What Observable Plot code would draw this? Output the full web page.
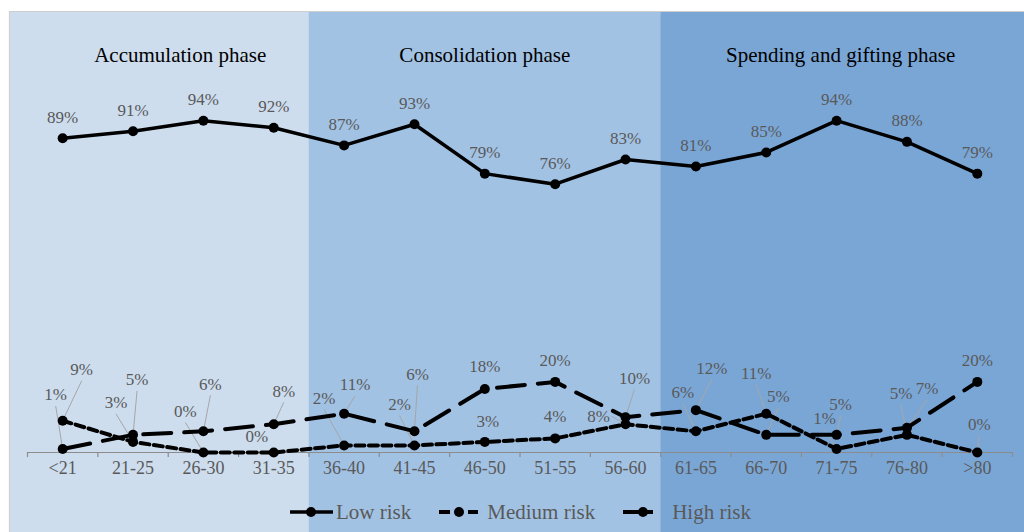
<!DOCTYPE html>
<html>
<head>
<meta charset="utf-8">
<script src="https://cdn.jsdelivr.net/npm/d3@7"></script>
<script src="https://cdn.jsdelivr.net/npm/@observablehq/plot@0.6"></script>
<style>
  html, body { margin: 0; padding: 0; background: #ffffff; }
  #wrap { position: relative; width: 1024px; height: 532px; }
  #legend { position: absolute; left: 290px; top: 499px; height: 26px; display: flex; align-items: center;
            font-family: serif; font-size: 21px; color: #595959; }
  #legend .item { display: flex; align-items: center; margin-right: 28px; }
  #legend svg { display: block; }
</style>
</head>
<body>
<div id="wrap"><div id="chart"></div><div id="legend"></div></div>
<script>
// ---- data ----
const categories = ["<21","21-25","26-30","31-35","36-40","41-45","46-50","51-55","56-60","61-65","66-70","71-75","76-80",">80"];
const lowRisk    = [89, 91, 94, 92, 87, 93, 79, 76, 83, 81, 85, 94, 88, 79];
const mediumRisk = [ 9,  3,  0,  0,  2,  2,  3,  4,  8,  6, 11,  1,  5,  0];
const highRisk   = [ 1,  5,  6,  8, 11,  6, 18, 20, 10, 12,  5,  5,  7, 20];
const seriesNames = ["Low risk", "Medium risk", "High risk"];
const phaseNames  = ["Accumulation phase", "Consolidation phase", "Spending and gifting phase"];
const phaseStart  = [0, 4, 9];
const phaseEnd    = [3, 8, 13];

// ---- layout / style (pixels) ----
const W = 1024, H = 532, ML = 27, MR = 12, MT = 99, MB = 80;
const Y0 = 0, Y1 = 100;
const kx = (W - ML - MR) / categories.length;
const ky = (H - MT - MB) / (Y1 - Y0);
const xFromPx = p => -0.5 + (p - ML) / kx;
const yFromPx = p => Y0 + (H - MB - p) / ky;
const phaseFill = ["#CDDDEE", "#A2C2E4", "#7AA6D6"];
const phaseTitleDx = [12, 0, 4];
// label offsets (px) relative to their point
const lowOff  = categories.map(() => [0, -21]);
const medOff  = [[19,-51],[-17,-39],[-18,-41],[-17,-16],[-20,-47],[-15,-41],[3,-20],[0,-22],[-27,-8],[-13,-39],[-10,-40],[-12,-30],[-6,-41],[2,-28]];
const highOff = [[-7,-54],[4,-55],[7,-47],[10,-33],[11,-29],[3,-57],[0,-22],[0,-21],[9,-39],[16,-42],[12,-38],[4,-30],[20,-39],[0,-21]];
const dash = [null, "9,4.5", "28,13"];
const widths = [3.5, 4, 4];
const labelColor = "#595959";
const font = "serif";

// ---- tables built from arrays ----
const values = [lowRisk, mediumRisk, highRisk];
const offsets = [lowOff, medOff, highOff];
const rows = seriesNames.flatMap((s, k) => categories.map((c, i) => ({series: s, k, i, v: values[k][i]})));
const labels = rows.map(d => {
  const [dx, dy] = offsets[d.k][d.i];
  const lx = d.i + dx / kx, ly = d.v - dy / ky;
  const lead = Math.hypot(dx, dy) > 25;
  let sx, sy;
  if (Math.abs(dy) >= Math.abs(dx)) { sx = lx; sy = ly - 11 / ky; }
  else { sx = lx - Math.sign(dx) * 13 / kx; sy = ly; }
  return {...d, lx, ly, lead, sx, sy, text: d.v + "%"};
});
const phases = phaseNames.map((n, j) => ({
  name: n,
  x1: j === 0 ? xFromPx(9) : phaseStart[j] - 0.5,
  x2: j === phaseNames.length - 1 ? xFromPx(W + 2) : phaseEnd[j] + 0.5,
  mid: (phaseStart[j] + phaseEnd[j]) / 2,
  dx: phaseTitleDx[j],
  fill: phaseFill[j]
}));
const boundaries = d3.range(categories.length + 1).map(i => i - 0.5);

const marks = [
  Plot.rect(phases, {x1: "x1", x2: "x2", y1: yFromPx(H + 2), y2: yFromPx(11), fill: "fill"}),
  Plot.ruleY([{y: yFromPx(11), a: xFromPx(9), b: xFromPx(W + 2)}], {y: "y", x1: "a", x2: "b", stroke: "#cfcfcf", strokeWidth: 1.2}),
  Plot.ruleX([{x: xFromPx(9), a: yFromPx(11), b: yFromPx(H + 2)}], {x: "x", y1: "a", y2: "b", stroke: "#cfcfcf", strokeWidth: 1.2}),
  ...phases.map(p => Plot.text([p], {x: "mid", frameAnchor: "top", dy: -52, dx: p.dx, text: "name", fill: "#000", fontSize: 21, fontFamily: font})),
  Plot.ruleY([{y: 0, a: -0.5, b: categories.length - 0.5}], {y: "y", x1: "a", x2: "b", stroke: "#8c8c8c", strokeWidth: 1.2}),
  Plot.ruleX(boundaries, {x: d => d, y1: 0, y2: -5 / ky, stroke: "#8c8c8c", strokeWidth: 1.2}),
  Plot.text(categories, {x: (d, i) => i, frameAnchor: "bottom", dy: 21, text: d => d, fill: labelColor, fontSize: 18, fontFamily: font}),
  Plot.link(labels.filter(d => d.lead), {x1: "sx", y1: "sy", x2: "i", y2: "v", stroke: "#a6a6a6", strokeWidth: 1}),
  ...seriesNames.map((s, k) => Plot.line(rows.filter(d => d.k === k), {x: "i", y: "v", stroke: "#000", strokeWidth: widths[k], strokeDasharray: dash[k], strokeLinejoin: "round"})),
  Plot.dot(rows, {x: "i", y: "v", r: 5, fill: "#000"}),
  Plot.text(labels, {x: "lx", y: "ly", text: "text", fill: labelColor, fontSize: 17, fontFamily: font})
];

const chart = Plot.plot({
  width: W, height: H,
  marginLeft: ML, marginRight: MR, marginTop: MT, marginBottom: MB,
  x: {domain: [-0.5, categories.length - 0.5], axis: null},
  y: {domain: [Y0, Y1], axis: null},
  style: {background: "transparent", overflow: "visible"},
  marks
});
chart.setAttribute("font-family", font);
document.getElementById("chart").appendChild(chart);

// ---- legend ----
const legend = document.getElementById("legend");
const sym = [
  '<line x1="0" y1="7" x2="43" y2="7" stroke="#000" stroke-width="3.5"/><circle cx="21" cy="7" r="5" fill="#000"/>',
  '<line x1="0" y1="7" x2="11" y2="7" stroke="#000" stroke-width="4"/><line x1="29" y1="7" x2="39" y2="7" stroke="#000" stroke-width="4"/><circle cx="20" cy="7" r="5" fill="#000"/>',
  '<line x1="0" y1="7" x2="30" y2="7" stroke="#000" stroke-width="4"/><circle cx="20" cy="7" r="5" fill="#000"/>'
];
const textGap = [3, 5, 6];
seriesNames.forEach((s, k) => {
  const item = document.createElement("div");
  item.className = "item";
  item.innerHTML = `<svg width="43" height="14">${sym[k]}</svg><span style="margin-left:${textGap[k]}px">${s}</span>`;
  legend.appendChild(item);
});
</script>
</body>
</html>
